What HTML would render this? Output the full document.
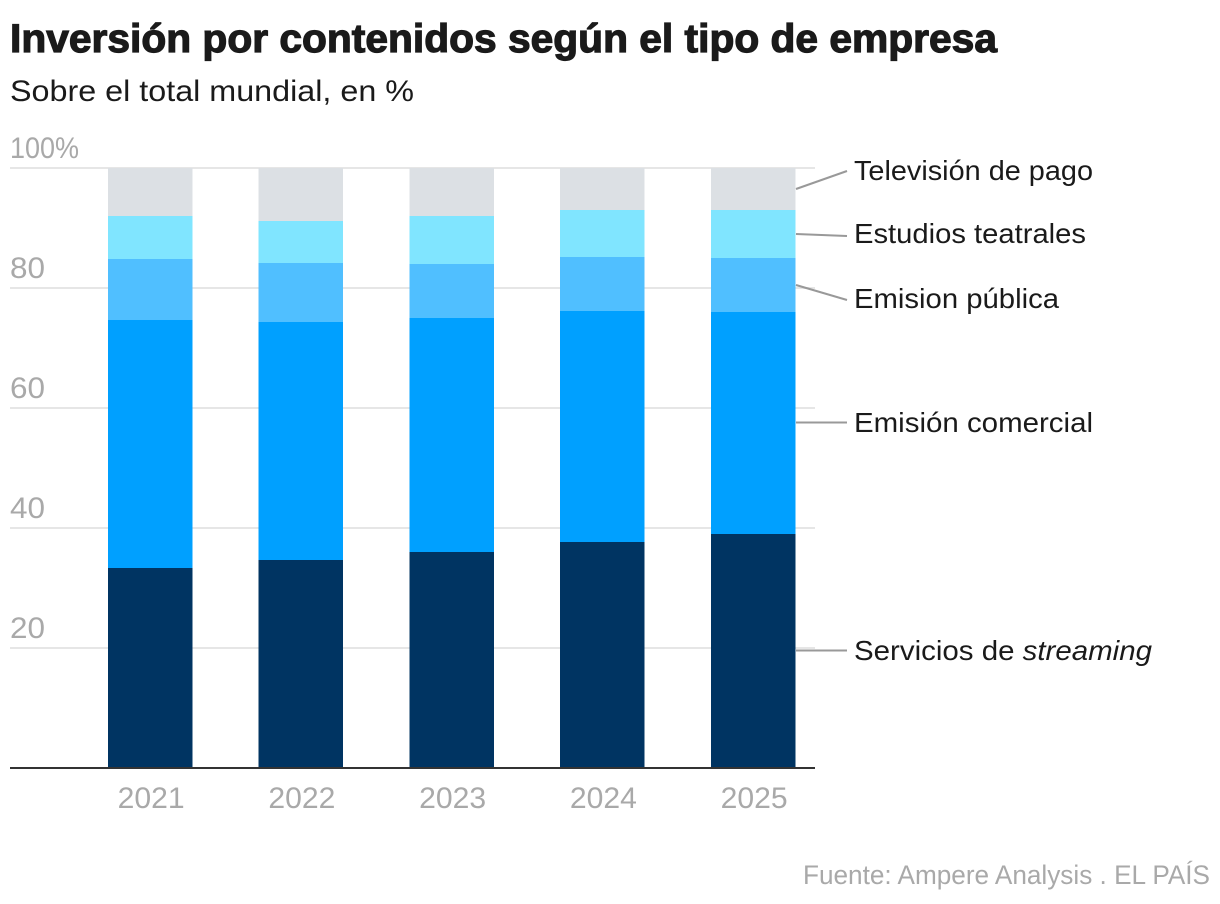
<!DOCTYPE html>
<html lang="es">
<head>
<meta charset="utf-8">
<title>Inversión por contenidos según el tipo de empresa</title>
<style>
html,body{margin:0;padding:0;background:#fff;}
svg{display:block;font-family:"Liberation Sans",sans-serif;}
.lab{font-size:28px;fill:#1a1a1a;}
.tick{font-size:30px;fill:#a9a9a9;}
</style>
</head>
<body>
<svg id="chart" width="1220" height="904" viewBox="0 0 1220 904" xmlns="http://www.w3.org/2000/svg">
  <rect width="1220" height="904" fill="#fff"/>
  <text x="10" y="52" font-size="40" font-weight="700" fill="#1a1a1a" stroke="#1a1a1a" stroke-width="1.2" textLength="987" lengthAdjust="spacingAndGlyphs">Inversión por contenidos según el tipo de empresa</text>
  <text x="10" y="101" font-size="30" fill="#1a1a1a" textLength="404" lengthAdjust="spacingAndGlyphs">Sobre el total mundial, en %</text>
  <g id="grid"></g>
  <g id="bars"></g>
  <g id="yticks"></g>
  <g id="xticks"></g>
  <rect id="baseline" x="10" y="767" width="805" height="2" fill="#333"/>

  <g stroke="#999" stroke-width="2" fill="none">
    <line x1="796" y1="189" x2="847" y2="171"/>
    <line x1="796" y1="234" x2="847" y2="236"/>
    <line x1="796" y1="285" x2="847" y2="300"/>
    <line x1="796" y1="422.5" x2="847" y2="422.5"/>
    <line x1="796" y1="650.5" x2="847" y2="650.5"/>
  </g>

  <text class="lab" x="854" y="180" textLength="239" lengthAdjust="spacingAndGlyphs">Televisión de pago</text>
  <text class="lab" x="854" y="243" textLength="232" lengthAdjust="spacingAndGlyphs">Estudios teatrales</text>
  <text class="lab" x="854" y="308" textLength="205" lengthAdjust="spacingAndGlyphs">Emision pública</text>
  <text class="lab" x="854" y="432" textLength="239" lengthAdjust="spacingAndGlyphs">Emisión comercial</text>
  <text class="lab" x="854" y="660" textLength="298" lengthAdjust="spacingAndGlyphs">Servicios de <tspan font-style="italic">streaming</tspan></text>

  <text x="803" y="884" font-size="27" fill="#a9a9a9" textLength="407" lengthAdjust="spacingAndGlyphs">Fuente: Ampere Analysis . EL PAÍS</text>
</svg>
<script>
const years = ["2021", "2022", "2023", "2024", "2025"];
const streaming = [33.33, 34.67, 36, 37.67, 39];
const comercial = [41.33, 39.67, 39, 38.5, 37];
const publica = [10.17, 9.83, 9, 9, 9];
const teatrales = [7.17, 7, 8, 7.83, 8];
const television = [8, 8.83, 8, 7, 7];
const yTickValues = [20, 40, 60, 80, 100];
const gridValues = [20, 40, 60, 80, 100];

const NS = "http://www.w3.org/2000/svg";
const PLOT_BOTTOM = 768, PLOT_TOP = 168, PLOT_LEFT = 10, PLOT_RIGHT = 815;
const BAND_START = 74.8, BAND_STEP = 150.75, BAR_WIDTH = 84.6;

function yScale(v) { return PLOT_BOTTOM - (v / 100) * (PLOT_BOTTOM - PLOT_TOP); }
function xCenter(i) { return BAND_START + BAND_STEP * (i + 0.5); }

const gridG = document.getElementById("grid");
gridValues.forEach(function (v) {
  const l = document.createElementNS(NS, "rect");
  
  
  l.setAttribute("x", PLOT_LEFT);
  l.setAttribute("y", yScale(v) - 1);
  l.setAttribute("width", PLOT_RIGHT - PLOT_LEFT);
  l.setAttribute("height", 2);
  l.setAttribute("fill", "#e6e6e6");
  gridG.appendChild(l);
});

const seriesList = [
  { key: "streaming", values: streaming, color: "#003462" },
  { key: "comercial", values: comercial, color: "#00a0ff" },
  { key: "publica", values: publica, color: "#50bfff" },
  { key: "teatrales", values: teatrales, color: "#80e5ff" },
  { key: "television", values: television, color: "#dce0e4" }
];

const barsG = document.getElementById("bars");
years.forEach(function (year, i) {
  let acc = 0;
  seriesList.forEach(function (s) {
    const start = acc;
    acc += s.values[i];
    const r = document.createElementNS(NS, "rect");
    
    
    r.setAttribute("x", xCenter(i) - BAR_WIDTH / 2);
    r.setAttribute("y", yScale(acc));
    r.setAttribute("width", BAR_WIDTH);
    r.setAttribute("height", yScale(start) - yScale(acc));
    r.setAttribute("fill", s.color);
    r.setAttribute("shape-rendering", "crispEdges");
    barsG.appendChild(r);
  });
});

const yG = document.getElementById("yticks");
yTickValues.forEach(function (v) {
  const t = document.createElementNS(NS, "text");
  
  
  t.setAttribute("class", "tick");
  t.setAttribute("x", PLOT_LEFT);
  t.setAttribute("y", yScale(v) - 10);
  t.setAttribute("textLength", v === 100 ? 69 : 35);
  t.setAttribute("lengthAdjust", "spacingAndGlyphs");
  t.textContent = v === 100 ? v + "%" : String(v);
  yG.appendChild(t);
});

const xG = document.getElementById("xticks");
years.forEach(function (year, i) {
  const t = document.createElementNS(NS, "text");
  
  
  t.setAttribute("class", "tick");
  t.setAttribute("x", xCenter(i) + 1);
  t.setAttribute("y", 808);
  t.setAttribute("text-anchor", "middle");
  t.setAttribute("textLength", 67);
  t.setAttribute("lengthAdjust", "spacingAndGlyphs");
  t.textContent = year;
  xG.appendChild(t);
});
</script>
</body>
</html>
